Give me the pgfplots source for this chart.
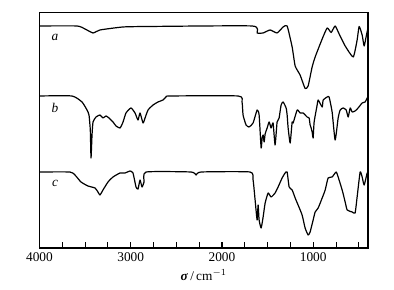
\documentclass[border=0pt]{standalone}
\usepackage{fontspec}
\setmainfont{Liberation Serif}
\usepackage{pgfplots}
\pgfplotsset{compat=1.18}
\begin{document}
\begin{tikzpicture}[spec/.style={black, line width=0.9pt, line join=round, mark=none, smooth, tension=0.3}]
\path[use as bounding box] (-29.6pt,-31.5pt) rectangle (265.9pt,186pt);
\begin{axis}[
  at={(0,0)}, anchor=south west,
  scale only axis, width=246.4pt, height=176.5pt,
  x dir=reverse, xmin=400, xmax=4000, ymin=0, ymax=235.3,
  xtick={1000,2000,3000,4000},
  minor xtick={500,750,1250,1500,1750,2250,2500,2750,3250,3500,3750},
  xtick pos=bottom, ytick=\empty,
  tick align=inside,
  major tick length=4.5pt, minor tick length=4.5pt,
  every tick/.style={line width=0.8pt, black},
  axis line style={line width=0.8pt},
  /pgf/number format/assume math mode=true,
  /pgf/number format/1000 sep={},
  tick label style={font=\fontsize{10}{12}\selectfont},
  xlabel={\textbf{\textit{σ}}\,/\,cm$^{-1}$},
  xlabel style={font=\fontsize{10}{12}\selectfont, yshift=1pt},
]
% trace a
\addplot[spec] coordinates {
(4000,222)(3589,222)(3501,219)(3413,215)(3337,218)(3084,221)(2788,221.5)
(1670,222)(1615,215)(1549,215)(1473,218)(1396,215)(1330,221)(1286,222)
(1231,201)(1198,182)(1144,173)(1089,159.5)(1056,162)(1012,181)(979,191)
(902,209)(847,220)(804,215.5)(760,222)(716,214)(650,202)(562,191)
(519,208)(497,221.5)(464,213)(442,202)(420,211.5)(398,221)
};
% trace b
\addplot[spec] coordinates {
(4000,152)(3644,152)(3534,146)(3479,138)(3457,133)(3443,118)(3435,90)
(3424,113)(3413,126)(3380,131)(3337,133)(3304,130)(3271,132)(3238,130)
(3194,126)(3161,122)(3117,120)(3084,126)(3052,135)(2997,140)(2953,135)
(2920,128)(2898,135)(2865,125)(2843,130)(2810,138)(2755,143)(2701,146)
(2646,148)(2613,151)(2569,152)(1823,152)(1780,146)(1769,133)(1736,123)
(1703,121)(1659,125)(1615,138)(1593,133)(1571,100)(1560,110)(1549,113)
(1538,106)(1527,114)(1505,120)(1483,126)(1462,120)(1440,125)(1418,103)
(1396,126)(1374,130)(1352,143)(1330,146)(1297,140)(1286,133)(1275,120)
(1253,105)(1231,126)(1220,125)(1176,138)(1144,135)(1111,135)(1067,131)
(1045,130)(1034,123)(1023,120)(1012,116)(1001,110)(990,126)(957,143)
(946,148)(902,141)(891,148)(847,151)(826,151)(793,136)(760,108)
(727,130)(705,138)(672,140)(639,138)(617,131)(595,140)(573,136)
(541,137)(508,140)(464,145)(431,146)(409,150)(398,151)
};
% trace c
\addplot[spec] coordinates {
(4000,76)(3666,76)(3611,73)(3545,66)(3468,62)(3391,60)(3359,56)(3337,53)
(3304,58)(3249,66)(3194,71)(3117,75)(3062,75)(3008,77)(2975,75)(2942,61)
(2920,59)(2898,68)(2876,61)(2854,66)(2832,76)(2339,76)(2284,73)(2229,76)
(1692,76)(1659,68)(1637,48)(1615,28)(1604,43)(1593,28)(1571,20)(1549,31)
(1527,45)(1494,55)(1462,51)(1418,55)(1385,61)(1341,70)(1308,75)(1286,76)
(1264,61)(1231,58)(1198,50)(1166,43)(1122,33)(1089,20)(1056,13)(1034,16)
(1001,28)(979,36)(946,40)(902,50)(869,58)(837,70)(793,71)(749,76)
(727,71)(683,58)(650,46)(628,38)(573,36)(541,35)(519,51)(486,76)
(464,71)(442,63)(409,75)(398,76)
};
\node[font=\itshape\fontsize{10}{12}\selectfont] at (axis cs:3830,211) {a};
\node[font=\itshape\fontsize{10}{12}\selectfont] at (axis cs:3830,140) {b};
\node[font=\itshape\fontsize{10}{12}\selectfont] at (axis cs:3830,65) {c};
\end{axis}
\end{tikzpicture}
\end{document}
